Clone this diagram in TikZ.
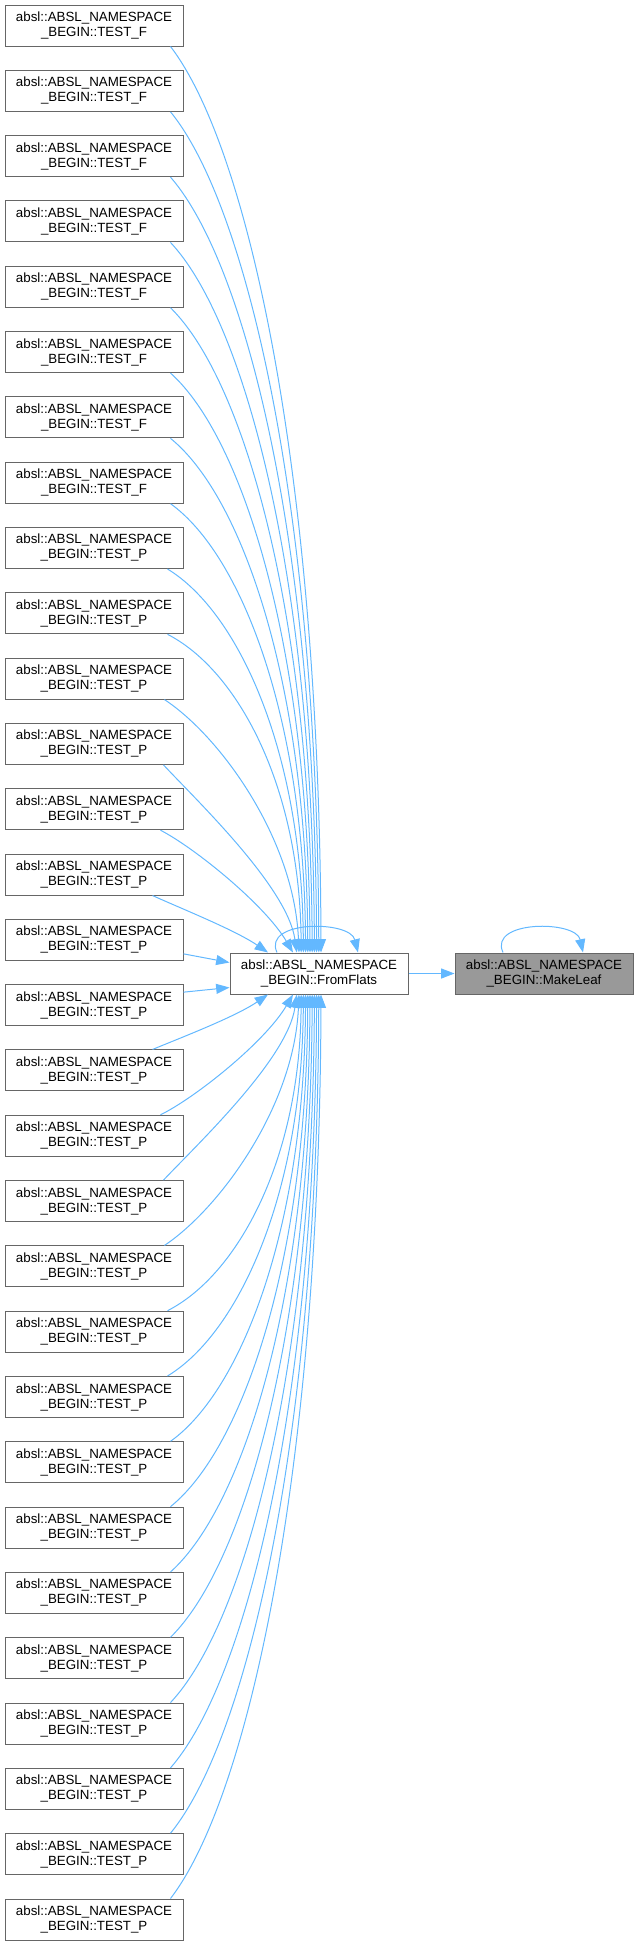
\documentclass[tikz,border=0pt]{standalone}
\usepackage{fontspec}
\setmainfont{Liberation Sans}
\usetikzlibrary{arrows.meta,calc}
\definecolor{nodeborder}{HTML}{666666}
\definecolor{focusfill}{HTML}{999999}
\definecolor{edgecol}{HTML}{63B8FF}
\tikzset{
  box/.style={draw=nodeborder, line width=0.75pt, fill=white, minimum width=133.5pt, minimum height=30.75pt, inner sep=0pt, align=center, font=\fontsize{10}{11.25}\selectfont},
  focusbox/.style={box, fill=focusfill},
  edge/.style={draw=edgecol, line width=0.75pt, -{Triangle[length=10pt,width=7.5pt]}},
}
\begin{document}
\begin{tikzpicture}[x=0.75pt,y=-0.75pt]
\useasboundingbox (0,0) rectangle (639,1946);
% left callers
\foreach \i in {0,...,29} {
  \pgfmathsetmacro\cy{25.5+65.31*\i}
  \ifnum\i<8 \def\suf{F}\else\def\suf{P}\fi
  \node[box] (L\i) at (94,\cy) {absl::ABSL\_NAMESPACE\\\_BEGIN::TEST\_\suf};
}
\node[box] (ff) at (319,973.5) {absl::ABSL\_NAMESPACE\\\_BEGIN::FromFlats};
\node[focusbox] (ml) at (544,973.5) {absl::ABSL\_NAMESPACE\\\_BEGIN::MakeLeaf};
% upper long edges
\foreach \i/\sx in {0/170,1/170,2/170,3/170,4/170,5/170,6/170,7/170,8/167,9/167,10/164,11/163} {
  \pgfmathsetmacro\sy{46+65.31*\i}
  \pgfmathsetmacro\ex{321-2.2*\i}
  \pgfmathsetmacro\W{\ex-\sx}
  \pgfmathsetmacro\H{953-\sy}
  \pgfmathsetmacro\s{min(1,max(0,(\H-189)/110))}
  \pgfmathsetmacro\ax{\sx+(0.25+0.28*\s)*\W}
  \pgfmathsetmacro\ay{\sy+(0.19-0.075*\s)*\H}
  \pgfmathsetmacro\bx{\sx+(0.93+0.06*\s)*\W}
  \pgfmathsetmacro\by{\sy+(0.65-0.17*\s)*\H}
  \pgfmathsetmacro\dsx{\sx-183}
  \pgfmathsetmacro\dex{\ex-319}
  \draw[edge] ($(L\i.south east)+(\dsx,0)$) .. controls (\ax,\ay) and (\bx,\by) .. ($(ff.north)+(\dex,0)$);
}
% lower long edges (mirror)
\foreach \i/\sx in {0/170,1/170,2/170,3/170,4/170,5/170,6/170,7/170,8/167,9/167,10/164,11/163} {
  \pgfmathtruncatemacro\j{29-\i}
  \pgfmathsetmacro\sy{5+65.31*\j}
  \pgfmathsetmacro\ex{321-2.2*\i}
  \pgfmathsetmacro\W{\ex-\sx}
  \pgfmathsetmacro\H{\sy-994}
  \pgfmathsetmacro\s{min(1,max(0,(\H-189)/110))}
  \pgfmathsetmacro\ax{\sx+(0.25+0.28*\s)*\W}
  \pgfmathsetmacro\ay{\sy-(0.19-0.075*\s)*\H}
  \pgfmathsetmacro\bx{\sx+(0.93+0.06*\s)*\W}
  \pgfmathsetmacro\by{\sy-(0.65-0.17*\s)*\H}
  \pgfmathsetmacro\dsx{\sx-183}
  \pgfmathsetmacro\dex{\ex-319}
  \draw[edge] ($(L\j.north east)+(\dsx,0)$) .. controls (\ax,\ay) and (\bx,\by) .. ($(ff.south)+(\dex,0)$);
}
% near edges
\draw[edge] ($(L12.south east)+(-23,0)$) .. controls (195,848) and (265,905) .. ($(ff.north)+(-26,0)$);
\draw[edge] ($(L17.north east)+(-23,0)$) .. controls (195,1098) and (265,1042) .. ($(ff.south)+(-26,0)$);
\draw[edge] ($(L13.south east)+(-31,0)$) .. controls (180,908) and (235,930) .. ($(ff.north)+(-51,0)$);
\draw[edge] ($(L16.north east)+(-31,0)$) .. controls (180,1038) and (235,1017) .. ($(ff.south)+(-51,0)$);
\draw[edge] ($(L14.east)+(0,14)$) -- ($(ff.west)+(0,-11)$);
\draw[edge] ($(L15.east)+(0,-13)$) -- ($(ff.west)+(0,14)$);
% self loops
\draw[edge] ($(ff.north)+(-42,0)$) .. controls (262,920) and (350,920) .. ($(ff.north)+(39,0)$);
\draw[edge] ($(ml.north)+(-41,0)$) .. controls (488,920) and (576,920) .. ($(ml.north)+(39,0)$);
% to MakeLeaf
\draw[edge] (ff) -- (ml);
\end{tikzpicture}
\end{document}
